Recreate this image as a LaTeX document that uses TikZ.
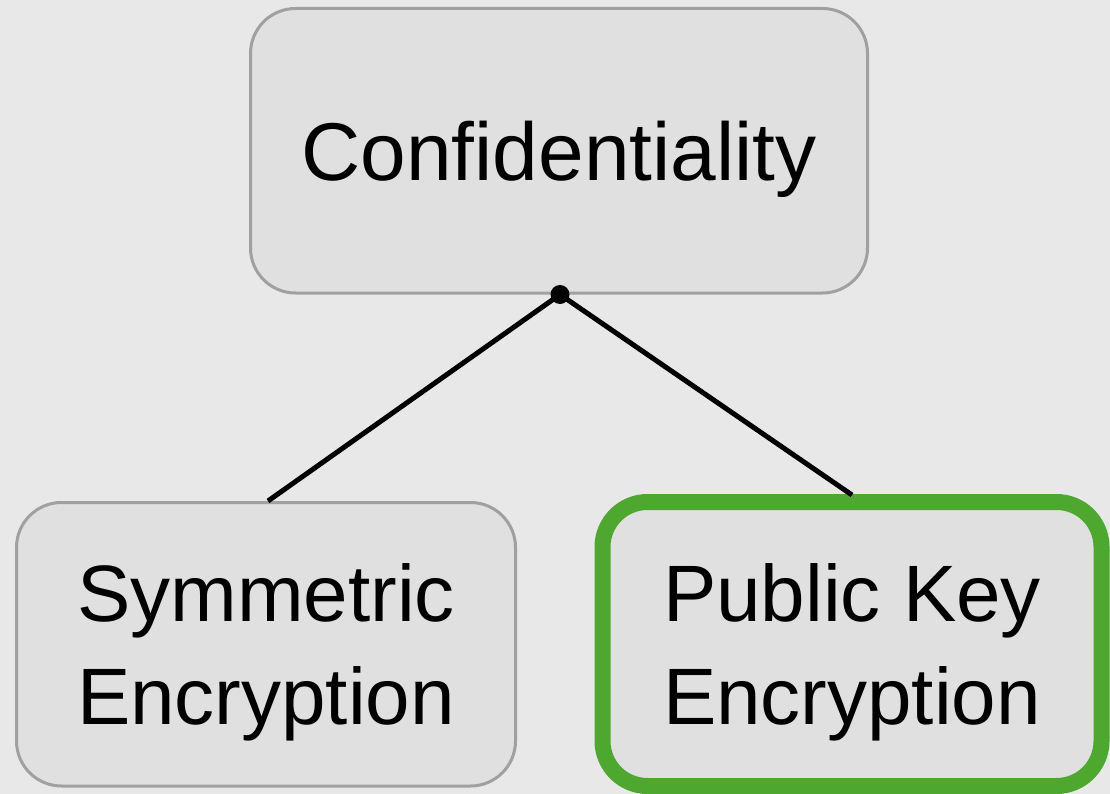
\documentclass[tikz,border=0pt]{standalone}
\usepackage{fontspec}
\setmainfont{Liberation Sans}
\definecolor{bg}{HTML}{E8E8E8}
\definecolor{boxfill}{HTML}{E0E0E0}
\definecolor{boxline}{HTML}{A0A0A0}
\definecolor{keygreen}{HTML}{4EA72E}
\tikzset{
  box/.style={draw=boxline, fill=boxfill, line width=3pt, rounded corners=45pt,
    inner sep=0pt, align=center, text=black, text depth=0pt},
  highlight/.style={box, draw=keygreen, line width=16pt},
  link/.style={line width=5pt, black},
}
\begin{document}
\begin{tikzpicture}[x=1pt, y=-1pt]
  % canvas
  \fill[bg] (0,0) rectangle (1110,794);
  \useasboundingbox (0,0) rectangle (1110,794);

  % root concept
  \node[box, minimum width=617pt, minimum height=284.5pt,
        font=\fontsize{82pt}{100pt}\selectfont] (conf) at (559,150.75) {Confidentiality};

  % the two branches
  \node[box, minimum width=499pt, minimum height=283.5pt,
        font=\fontsize{80pt}{103pt}\selectfont] (sym) at (266,644.25) {Symmetric\\Encryption};
  \node[highlight, minimum width=499pt, minimum height=284pt,
        font=\fontsize{80pt}{103pt}\selectfont] (pub) at (852,644) {Public Key\\Encryption};

  % junction under the root and its connectors
  \coordinate (hub) at ([xshift=1pt]conf.south);
  \draw[link] (hub) -- ([xshift=2pt]sym.north);
  \draw[link] (hub) -- ([yshift=-1pt]pub.north);
  \fill (hub) circle (9.5pt);
\end{tikzpicture}
\end{document}
